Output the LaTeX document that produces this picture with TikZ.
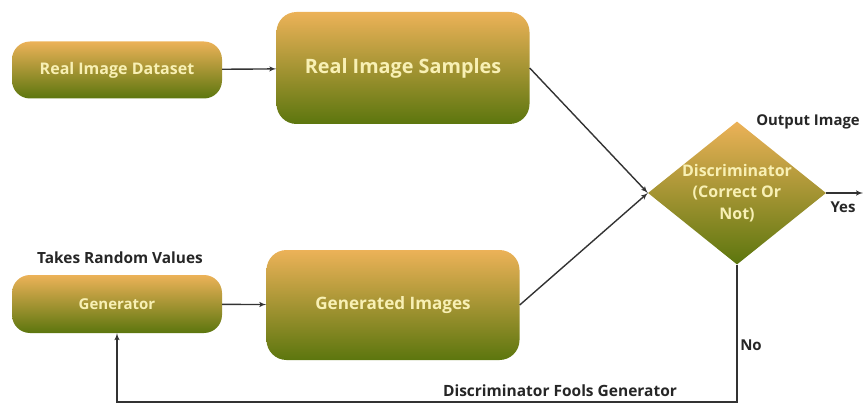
\documentclass[tikz,border=0pt]{standalone}
\usepackage{fontspec}
\setmainfont{Open Sans}
\usetikzlibrary{arrows,shapes.geometric}
\definecolor{boxtop}{RGB}{236,178,88}
\definecolor{boxbot}{RGB}{92,118,14}
\definecolor{boxtext}{RGB}{248,240,180}

\begin{document}
\begin{tikzpicture}[x=1pt,y=-1pt]
\tikzset{box/.style = {rectangle, rounded corners=18pt, top color=boxtop, bottom color=boxbot, draw=none, text=boxtext, font=\bfseries, inner sep=0pt}}
\tikzset{decision/.style = {diamond, top color=boxtop, bottom color=boxbot, draw=none, inner sep=0pt, minimum width=178pt, minimum height=143pt}}
\tikzset{edge/.style = {->, > = latex', line width=1.4pt, draw=black!80}}
\tikzset{note/.style = {font=\bfseries, text=black!85, inner sep=0pt}}
\useasboundingbox (0,0) rectangle (863,404);

\node[box, minimum width=210pt, minimum height=57pt, font=\bfseries\fontsize{16}{19}\selectfont] (dataset) at (117,70) {Real Image Dataset};
\node[box, minimum width=253pt, minimum height=112pt, rounded corners=20pt, font=\bfseries\fontsize{19.8}{23}\selectfont] (samples) at (403,68) {Real Image Samples};
\node[box, minimum width=210pt, minimum height=58pt, font=\bfseries\fontsize{15}{18}\selectfont] (gen) at (117,304) {Generator};
\node[box, minimum width=253pt, minimum height=110pt, rounded corners=20pt, font=\bfseries\fontsize{17.1}{20}\selectfont] (fake) at (393,305) {Generated Images};
\node[decision] (disc) at (737,193) {};
\node[align=center, text=boxtext, font=\bfseries\fontsize{16}{21.5}\selectfont, inner sep=0pt] (disctext) at (disc) {Discriminator\\(Correct Or\\Not)};

%labels
\node[note, font=\bfseries\fontsize{15.4}{18}\selectfont] (random) at (120,258) {Takes Random Values};
\node[note, font=\bfseries\fontsize{14.9}{18}\selectfont] (output) at (808,122) {Output Image};
\node[note, font=\bfseries\fontsize{15}{18}\selectfont] (yes) at (843,207) {Yes};
\node[note, font=\bfseries\fontsize{15}{18}\selectfont] (no) at (751,345) {No};
\node[note, font=\bfseries\fontsize{15.5}{18}\selectfont] (fools) at (560,391) {Discriminator Fools Generator};

\coordinate (out) at (863,193);
\coordinate (c1) at (737,402);
\coordinate (c2) at (117,402);

%edges
\draw[edge] (dataset) -- (samples);
\draw[edge] (gen) -- (fake);
\draw[edge] (samples.east) -- (disc.west);
\draw[edge] (fake.east) -- (disc.west);
\draw[edge] (disc.east) -- (out);
\draw[edge] (disc.south) -- (c1) -- (c2) -- (gen.south);

\end{tikzpicture}
\end{document}
